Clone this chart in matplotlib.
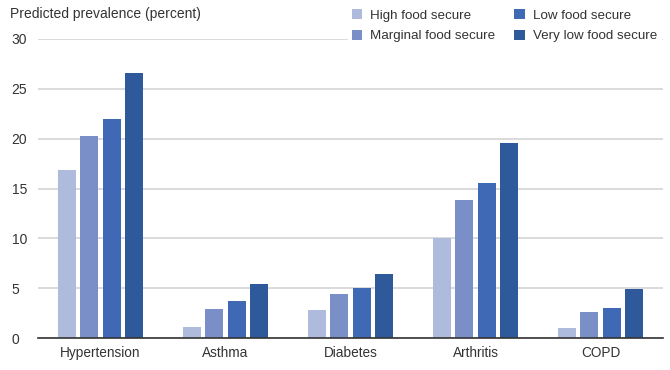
import numpy as np
import matplotlib.pyplot as plt
from matplotlib.patches import Patch

plt.rcParams['font.family'] = ['Liberation Sans', 'DejaVu Sans']

conditions = ["Hypertension", "Asthma", "Diabetes", "Arthritis", "COPD"]
series = ["High food secure", "Marginal food secure", "Low food secure", "Very low food secure"]
high = [16.9, 1.1, 2.8, 10.0, 1.0]
marginal = [20.3, 2.9, 4.4, 13.8, 2.6]
low = [22.0, 3.7, 5.0, 15.6, 3.0]
very_low = [26.6, 5.4, 6.4, 19.6, 4.9]
colors = ["#aebbdc", "#7a8fc8", "#3f68b5", "#2e5a9c"]

fig = plt.figure(figsize=(6.7, 3.7), dpi=100)
ax = fig.add_axes([38/670, 1 - 338/370, 625/670, 299/370])

x = np.arange(len(conditions))
w = 0.145
pitch = 0.18
for i, vals in enumerate([high, marginal, low, very_low]):
    ax.bar(x + (i - 1.5) * pitch, vals, width=w, color=colors[i], zorder=3)

ax.set_xlim(-0.5, 4.5)
ax.set_ylim(0, 30)
ax.set_yticks(range(0, 31, 5))
ax.yaxis.grid(True, color="#d4d4d8", linewidth=1.2, zorder=0)
ax.set_xticks(x)
ax.set_xticklabels(conditions, fontsize=9.8, color="#333333")
ax.tick_params(axis="y", length=0, pad=19, labelsize=10, labelcolor="#333333")
ax.tick_params(axis="x", length=0, pad=6)
for lbl in ax.get_yticklabels():
    lbl.set_horizontalalignment("left")
for s in ["top", "right", "left"]:
    ax.spines[s].set_visible(False)
ax.spines["bottom"].set_color("#333333")
ax.spines["bottom"].set_linewidth(1.2)
ax.spines["bottom"].set_zorder(4)

fig.text(10/670, 1 - 14/370, "Predicted prevalence (percent)", fontsize=10,
         color="#333333", va="center", ha="left")

handles = [Patch(facecolor=c, label=s) for c, s in zip(colors, series)]
leg = fig.legend(handles=handles, ncol=2, loc="upper left",
                 bbox_to_anchor=(341/670, 1.005), frameon=True, fontsize=9.6,
                 handlelength=0.8, handleheight=0.8, handletextpad=0.6,
                 columnspacing=1.4, labelspacing=0.6, borderpad=0.3)
leg.get_frame().set_facecolor("white")
leg.get_frame().set_edgecolor("white")
leg.get_frame().set_alpha(1)
for t in leg.get_texts():
    t.set_color("#333333")

fig.savefig("out.png", dpi=100)
